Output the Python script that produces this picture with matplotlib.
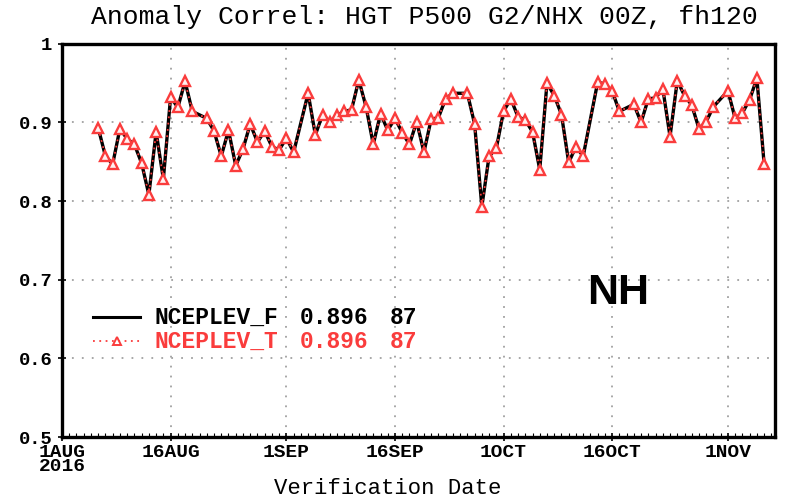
import numpy as np
import pandas as pd
import matplotlib
matplotlib.use('Agg')
import matplotlib.pyplot as plt
import matplotlib.dates as mdates

# verification dates (daily, a few days missing)
sdate='2016-08-06'
edate='2016-11-06'
missing=['2016-08-20','2016-09-03','2016-09-25','2016-10-13','2016-10-18','2016-10-31']

# anomaly correlation, HGT P500 NHX, fh120
acc_f=[0.893,0.857,0.847,0.892,0.879,0.872,0.848,0.808,0.888,0.828,
       0.932,0.919,0.952,0.914,0.905,0.889,0.857,0.890,0.845,0.866,
       0.898,0.875,0.889,0.869,0.865,0.880,0.862,0.937,0.884,0.910,
       0.901,0.909,0.914,0.916,0.954,0.920,0.872,0.911,0.890,0.905,
       0.887,0.872,0.901,0.862,0.904,0.906,0.930,0.937,0.937,0.898,
       0.793,0.857,0.867,0.914,0.930,0.907,0.903,0.888,0.840,0.950,
       0.934,0.910,0.849,0.869,0.857,0.951,0.949,0.940,0.914,0.923,
       0.900,0.930,0.931,0.943,0.882,0.953,0.934,0.922,0.892,0.901,
       0.920,0.940,0.905,0.912,0.929,0.956,0.847]
acc_t=list(acc_f)

exp_nm=['NCEPLEV_F','NCEPLEV_T']
exp_mean=['0.896','0.896']
exp_num=['87','87']
ytcks=[0.5,0.6,0.7,0.8,0.9,1.0]
ylabs=['0.5','0.6','0.7','0.8','0.9','1']
xtcks=['2016-08-01','2016-08-16','2016-09-01','2016-09-16','2016-10-01','2016-10-16','2016-11-01']
xlabs=['1AUG\n2016','16AUG','1SEP','16SEP','1OCT','16OCT','1NOV']

dates=pd.date_range(sdate,edate,freq='D')
dates=dates[~dates.isin(pd.to_datetime(missing))]

red='#fa3c3c'
mono='Liberation Mono'

fig=plt.figure(figsize=(7.9,5.03),dpi=100)
ax=fig.add_axes([0.0785,0.1312,0.9025,0.7819])

ax.plot(dates,acc_f,color='black',lw=2.4,zorder=3)
ax.plot(dates,acc_t,color=red,lw=1.3,ls=(0,(1,2.5)),marker='^',ms=7.5,
        mfc='#fff0f0',mec=red,mew=1.7,zorder=4)

x0=pd.Timestamp('2016-08-01')
ax.set_xlim(x0,x0+pd.Timedelta(days=98.5))
ax.set_ylim(0.5,1.0)
ax.set_yticks(ytcks)
ax.set_yticklabels(ylabs,family=mono,fontsize=13.5,fontweight='bold')
ax.set_xticks(pd.to_datetime(xtcks))
ax.set_xticklabels(xlabs,family=mono,fontsize=14,fontweight='bold',linespacing=0.8)
for lb in ax.get_xticklabels():
    lb.set_verticalalignment('top')
ax.xaxis.set_minor_locator(mdates.DayLocator())
ax.tick_params(axis='y',which='major',direction='inout',length=6,width=1.2,pad=4)
ax.tick_params(axis='x',which='major',direction='inout',length=6,width=1.2,pad=2)
ax.tick_params(axis='x',which='minor',direction='in',length=3,width=0.8)

for yv in ytcks[1:-1]:
    ax.axhline(yv,color='#a0a0a0',lw=1.3,ls=(0,(1,4.5)),zorder=1)
for xv in pd.to_datetime(xtcks[1:]):
    ax.axvline(xv,color='#a0a0a0',lw=1.3,ls=(0,(1,4.5)),zorder=1)
for sp in ax.spines.values():
    sp.set_linewidth(2.4)

# legend block
tr=ax.transAxes
ax.plot([0.0435,0.109],[0.305,0.305],color='black',lw=2.2,transform=tr)
ax.plot([0.0435,0.109],[0.244,0.244],color=red,lw=1.3,ls=(0,(1,2.5)),transform=tr)
ax.plot([0.077],[0.244],marker='^',ms=6,mfc='white',mec=red,mew=1.4,transform=tr)
for i,(clr,yy) in enumerate(zip(['black',red],[0.305,0.244])):
    ax.text(0.130,yy,exp_nm[i],color=clr,transform=tr,va='center',family=mono,fontsize=16.5,fontweight='bold')
    ax.text(0.334,yy,exp_mean[i],color=clr,transform=tr,va='center',family=mono,fontsize=16.5,fontweight='bold')
    ax.text(0.460,yy,exp_num[i],color=clr,transform=tr,va='center',family=mono,fontsize=16.5,fontweight='bold')

ax.text(0.780,0.366,'NH',transform=tr,ha='center',va='center',family='Liberation Sans',
        fontsize=31,fontweight='bold')

fig.text(424/790,1-17/503,'Anomaly Correl: HGT P500 G2/NHX 00Z, fh120',ha='center',va='center',
         family=mono,fontsize=19)
fig.text(388/790,1-488/503,'Verification Date',ha='center',va='center',family=mono,fontsize=16)

fig.savefig('out.png',dpi=100)
